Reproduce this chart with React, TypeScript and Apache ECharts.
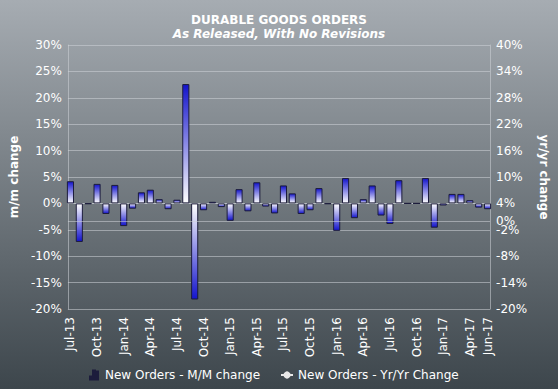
import React, { useEffect, useRef } from "react";
import * as echarts from "echarts";

const categories = [
  "Jul-13","Aug-13","Sep-13","Oct-13","Nov-13","Dec-13",
  "Jan-14","Feb-14","Mar-14","Apr-14","May-14","Jun-14",
  "Jul-14","Aug-14","Sep-14","Oct-14","Nov-14","Dec-14",
  "Jan-15","Feb-15","Mar-15","Apr-15","May-15","Jun-15",
  "Jul-15","Aug-15","Sep-15","Oct-15","Nov-15","Dec-15",
  "Jan-16","Feb-16","Mar-16","Apr-16","May-16","Jun-16",
  "Jul-16","Aug-16","Sep-16","Oct-16","Nov-16","Dec-16",
  "Jan-17","Feb-17","Mar-17","Apr-17","May-17","Jun-17",
];

const momChange = [
  4.2, -7.3, -0.1, 3.7, -2.0, 3.5,
  -4.3, -1.0, 2.1, 2.6, 0.8, -1.1,
  0.7, 22.6, -18.2, -1.3, 0.3, -0.7,
  -3.3, 2.7, -1.5, 4.0, -0.6, -1.9,
  3.4, 1.9, -2.0, -1.3, 2.9, -0.1,
  -5.2, 4.8, -2.8, 0.8, 3.4, -2.3,
  -3.9, 4.4, 0.0, 0.0, 4.8, -4.6,
  -0.4, 1.8, 1.8, 0.6, -0.8, -1.1,
];

const yoyChange: number[] = [];

const leftTicks = { min: -20, max: 30, interval: 5 };
const rightTicks = { min: -20, max: 40, interval: 6 };
const rightLabels = [-20, -14, -8, -2, 0, 4, 10, 16, 22, 28, 34, 40];

const FONT = "DejaVu Sans";

export default function App() {
  const ref = useRef<HTMLDivElement>(null);
  useEffect(() => {
    if (!ref.current) return;
    const chart = echarts.init(ref.current, undefined, { renderer: "svg" });
    const blue = "#1414cc";
    const barData = momChange.map((v) => ({
      value: v,
      itemStyle: {
        color: new echarts.graphic.LinearGradient(0, 0, 0, 1,
          v >= 0
            ? [{ offset: 0, color: blue }, { offset: 1, color: "#ffffff" }]
            : [{ offset: 0, color: "#ffffff" }, { offset: 1, color: blue }]),
      },
    }));
    const gridLineColor = "rgba(205,210,215,0.55)";
    chart.setOption({
      animation: false,
      backgroundColor: new echarts.graphic.LinearGradient(0, 0, 0, 1, [
        { offset: 0, color: "#a6acb2" },
        { offset: 1, color: "#3d464c" },
      ]),
      textStyle: { fontFamily: FONT },
      title: {
        text: "DURABLE GOODS ORDERS",
        subtext: "As Released, With No Revisions",
        left: "center",
        top: 9,
        itemGap: 2,
        textStyle: { color: "#ffffff", fontSize: 12, fontWeight: "bold", fontFamily: FONT },
        subtextStyle: { color: "#ffffff", fontSize: 12, fontWeight: "bold", fontStyle: "italic", fontFamily: FONT },
      },
      legend: {
        bottom: 3,
        left: 84,
        itemGap: 20,
        itemWidth: 12,
        itemHeight: 9,
        textStyle: { color: "#ffffff", fontSize: 12, fontFamily: FONT },
        data: [
          {
            name: "New Orders - M/M change",
            icon: "path://M0,7h2v3h-2z M3,4h2v6h-2z M6,2h2v8h-2z M3,1h2v2h-2z",
            itemStyle: { color: "#1a1ad6" },
          },
          {
            name: "New Orders - Yr/Yr Change",
          },
        ],
      },
      grid: [
        { left: 61, top: 45, width: 436, height: 264 },
        { left: 66, top: 45, width: 426, height: 264 },
      ],
      xAxis: [
        {
          type: "value", gridIndex: 0, min: 0, max: 1,
          axisLine: { show: true, lineStyle: { color: gridLineColor } },
          axisTick: { show: false }, axisLabel: { show: false }, splitLine: { show: false },
        },
        {
          type: "category", gridIndex: 1, data: categories,
          axisLine: { show: false }, axisTick: { show: false },
          axisLabel: {
            color: "#ffffff", fontSize: 12, rotate: 90, margin: 8, fontFamily: FONT,
            interval: (i: number) => i % 3 === 0 || i === categories.length - 1,
          },
        },
      ],
      yAxis: [
        {
          type: "value", gridIndex: 0, position: "left",
          ...leftTicks,
          name: "m/m change", nameLocation: "middle", nameGap: 44, nameRotate: 90,
          nameTextStyle: { color: "#ffffff", fontSize: 12, fontWeight: "bold", fontFamily: FONT },
          axisLine: { show: true, lineStyle: { color: gridLineColor } },
          axisTick: { show: false },
          axisLabel: { color: "#ffffff", fontSize: 12, formatter: "{value}%", margin: 6, fontFamily: FONT },
          splitLine: { show: true, lineStyle: { color: gridLineColor } },
        },
        {
          type: "value", gridIndex: 0, position: "right",
          ...rightTicks,
          name: "yr/yr change", nameLocation: "middle", nameGap: 46, nameRotate: -90,
          nameTextStyle: { color: "#ffffff", fontSize: 12, fontWeight: "bold", fontFamily: FONT },
          axisLine: { show: true, lineStyle: { color: gridLineColor } },
          axisTick: { show: false },
          axisLabel: {
            color: "#ffffff", fontSize: 12, formatter: "{value}%", margin: 6, fontFamily: FONT,
            customValues: rightLabels,
          },
          splitLine: { show: false },
        },
        {
          type: "value", gridIndex: 1, ...leftTicks, show: false,
        },
      ],
      series: [
        {
          name: "New Orders - M/M change",
          type: "bar",
          xAxisIndex: 1, yAxisIndex: 2,
          data: barData,
          barCategoryGap: "20%",
          itemStyle: { borderColor: "#1c1c3c", borderWidth: 1 },
        },
        {
          name: "New Orders - Yr/Yr Change",
          type: "line",
          xAxisIndex: 0, yAxisIndex: 1,
          data: yoyChange,
          symbol: "circle",
          symbolSize: 6,
          itemStyle: { color: "#e8e8e8" },
          lineStyle: { color: "#e8e8e8", width: 2 },
          markLine: {
            silent: true, symbol: "none", label: { show: false },
            lineStyle: { color: gridLineColor, type: "solid", width: 1 },
            data: [{ yAxis: 0 }],
          },
        },
      ],
    });
    return () => chart.dispose();
  }, []);
  return <div ref={ref} style={{ width: 558, height: 389, position: "absolute", left: 0, top: 0 }} />;
}
